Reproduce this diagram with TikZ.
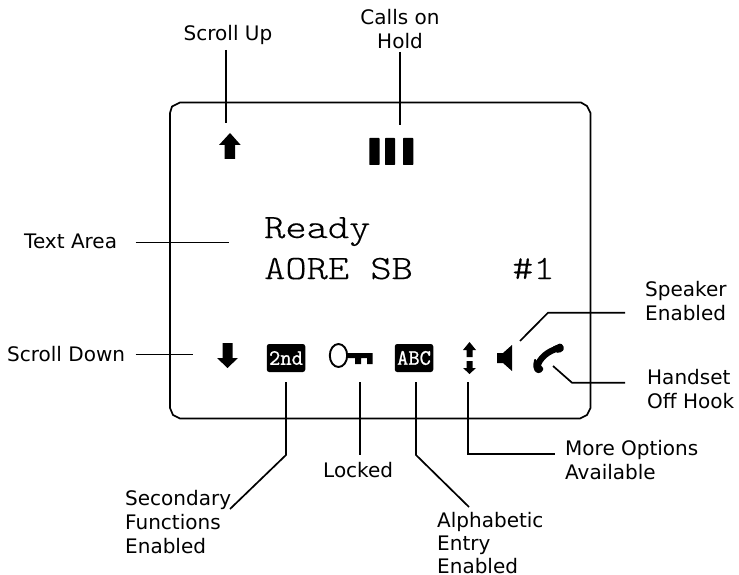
\documentclass[tikz,border=0pt]{standalone}
\usepackage{fontspec}
\setmainfont{DejaVu Sans}
\newfontfamily\lcdfont[FakeStretch=1.19,FakeBold=0.35]{Latin Modern Mono Light}
\newfontfamily\badgefont[FakeBold=1]{Latin Modern Mono}
\tikzset{
  lbl/.style={inner sep=0pt,font=\fontsize{20}{24}\selectfont},
  lcd/.style={inner sep=0pt,anchor=base west,font=\fontsize{34}{34}\selectfont\lcdfont},
  conn/.style={line width=1.7pt},
  frame/.style={line width=1.7pt,line join=round},
  solidicon/.style={fill=black,draw=none},
  badge/.style={fill=black,rounded corners=2.5pt,text=white,inner sep=0pt,minimum width=38.5pt,minimum height=28pt,font=\fontsize{22}{22}\selectfont\badgefont},
}
\begin{document}
\begin{tikzpicture}[x=1pt,y=-1pt]
\useasboundingbox (0,0) rectangle (739,575);
% display frame
\draw[frame] (180,102.5) -- (581,102.5) -- (587,106) -- (590.5,113) -- (590.5,408) -- (587,415) -- (580,418.5) -- (180,418.5) -- (173,415) -- (170,408) -- (170,113) -- (172,106.5) -- cycle;
% icons
\fill[solidicon] (230,133) -- (240.7,145) -- (235,145) -- (235,159) -- (224.5,159) -- (224.5,145) -- (219,145) -- cycle;
\fill[solidicon,rounded corners=0.6pt] (369.3,138) rectangle (379.5,165);
\fill[solidicon,rounded corners=0.6pt] (385,138) rectangle (395,165);
\fill[solidicon,rounded corners=0.6pt] (403,138) rectangle (413.3,165);
\fill[solidicon] (227.5,368) -- (217,358) -- (222.5,358) -- (222.5,343) -- (232.5,343) -- (232.5,358) -- (238,358) -- cycle;
\node[badge] (second) at (286,358) {2nd};
\draw[line width=1.9pt] (338.5,355.5) ellipse (8.7 and 11.5);
\fill[solidicon] (347,353) -- (372.7,353) -- (372.7,364) -- (367,364) -- (367,358) -- (361,358) -- (361,364) -- (355,364) -- (355,358) -- (347,358) -- cycle;
\node[badge] (abc) at (414,358) {ABC};
\fill[solidicon] (469.5,342) -- (476,350) -- (472.5,350) -- (472.5,357) -- (466.7,357) -- (466.7,350) -- (463,350) -- cycle;
\fill[solidicon] (469.5,374) -- (476,368) -- (472.5,368) -- (472.5,361) -- (466.7,361) -- (466.7,368) -- (463,368) -- cycle;
\fill[solidicon] (497,353) -- (503,353) -- (512,345) -- (512,371) -- (503,363) -- (497,363) -- cycle;
\draw[line width=6.2pt] (537.5,367) .. controls (539,358) and (548,351) .. (559,348);
\fill[solidicon,rounded corners=1.5pt] (534.5,358) -- (544,369) -- (540,373.5) -- (535,372) -- (533,366) -- cycle;
\fill[solidicon,rounded corners=1.5pt] (552,347) -- (561,343) -- (564.5,348) -- (562,352) -- (556,353) -- cycle;
% display text
\node[lcd] (ready) at (264,238) {Ready};
\node[lcd] (aore) at (264,279) {AORE SB};
\node[lcd] (num) at (512,279) {\#1};
% labels
\node[lbl,anchor=base] (up) at (228,40.5) {Scroll Up};
\node[lbl,align=center,anchor=base] (hold) at (400,48.5) {Calls on\\Hold};
\node[lbl,anchor=base west] (textarea) at (24,248.5) {Text Area};
\node[lbl,anchor=base west] (down) at (7,361) {Scroll Down};
\node[lbl,align=left,anchor=base west] (spk) at (645,320.5) {Speaker\\Enabled};
\node[lbl,align=left,anchor=base west] (hset) at (647,408) {Handset\\Off Hook};
\node[lbl,align=left,anchor=base west] (more) at (565,479) {More Options\\Available};
\node[lbl,anchor=base west] (locked) at (323,477) {Locked};
\node[lbl,align=left,anchor=base west] (sec) at (125,553) {Secondary\\Functions\\Enabled};
\node[lbl,align=left,anchor=base west] (alpha) at (437,573) {Alphabetic\\[-1pt]Entry\\[-1pt]Enabled};
% connector ends
\coordinate (upT) at (226,50);
\coordinate (upB) at (226,123);
\coordinate (holdT) at (400,52);
\coordinate (holdB) at (400,125);
\coordinate (taL) at (135.5,242.5);
\coordinate (taR) at (229,242.5);
\coordinate (dnL) at (135.5,354.5);
\coordinate (dnR) at (193,354.5);
\coordinate (secT) at (286,382);
\coordinate (secM) at (286,455);
\coordinate (secE) at (230,509);
\coordinate (lockT) at (360,382);
\coordinate (lockB) at (360,455);
\coordinate (abcT) at (416,382);
\coordinate (abcM) at (416,455);
\coordinate (abcE) at (469,507);
\coordinate (moreT) at (468,382);
\coordinate (moreM) at (468,454);
\coordinate (moreE) at (555,454);
\coordinate (spkA) at (520,341);
\coordinate (spkM) at (548,312.7);
\coordinate (spkE) at (625,312.7);
\coordinate (hsA) at (553,366);
\coordinate (hsM) at (572,382.7);
\coordinate (hsE) at (625,382.7);
% connectors
\draw[conn] (upT) -- (upB);
\draw[conn] (holdT) -- (holdB);
\draw[conn] (taL) -- (taR);
\draw[conn] (dnL) -- (dnR);
\draw[conn] (secT) -- (secM) -- (secE);
\draw[conn] (lockT) -- (lockB);
\draw[conn] (abcT) -- (abcM) -- (abcE);
\draw[conn] (moreT) -- (moreM) -- (moreE);
\draw[conn] (spkA) -- (spkM) -- (spkE);
\draw[conn] (hsA) -- (hsM) -- (hsE);
\end{tikzpicture}
\end{document}
